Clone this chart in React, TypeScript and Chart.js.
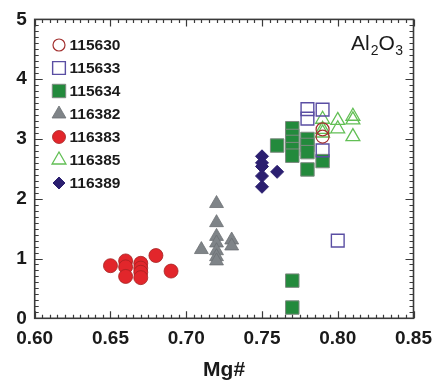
import React, { useEffect, useRef } from "react";
import { Chart, registerables } from "chart.js";

Chart.register(...registerables);

const xTickValues = [0.6, 0.65, 0.7, 0.75, 0.8, 0.85];
const yTickValues = [0, 1, 2, 3, 4, 5];

const names = ["115630", "115633", "115634", "116382", "116383", "116385", "116389"];

const x115630 = [0.79, 0.79];
const y115630 = [3.16, 3.04];

const x115633 = [0.78, 0.78, 0.79, 0.79, 0.8];
const y115633 = [3.5, 3.34, 3.49, 2.81, 1.3];

const x115634 = [0.76, 0.77, 0.77, 0.77, 0.77, 0.77, 0.78, 0.78, 0.78, 0.78, 0.79, 0.77, 0.77];
const y115634 = [2.89, 3.18, 3.05, 2.95, 2.83, 2.72, 3.0, 2.9, 2.78, 2.49, 2.63, 0.63, 0.18];

const x116382 = [0.71, 0.72, 0.72, 0.72, 0.72, 0.72, 0.72, 0.72, 0.73, 0.73];
const y116382 = [1.15, 1.92, 1.6, 1.37, 1.26, 1.13, 1.03, 0.96, 1.31, 1.21];

const x116383 = [0.65, 0.66, 0.66, 0.66, 0.67, 0.67, 0.67, 0.67, 0.68, 0.69];
const y116383 = [0.88, 0.96, 0.86, 0.7, 0.92, 0.84, 0.77, 0.68, 1.05, 0.79];

const x116385 = [0.79, 0.79, 0.79, 0.8, 0.8, 0.81, 0.81, 0.81];
const y116385 = [3.33, 3.16, 3.1, 3.31, 3.17, 3.38, 3.32, 3.04];

const x116389 = [0.75, 0.75, 0.75, 0.75, 0.75, 0.76];
const y116389 = [2.71, 2.6, 2.54, 2.38, 2.2, 2.45];

const toPoints = (xs: number[], ys: number[]) => xs.map((x, i) => ({ x, y: ys[i] }));

const FONT = "'Liberation Sans', Arial, Helvetica, sans-serif";

function drawMarker(ctx: CanvasRenderingContext2D, style: string, r: number, x: number, y: number) {
  ctx.beginPath();
  if (style === "circle") {
    ctx.arc(x, y, r, 0, Math.PI * 2);
  } else if (style === "rect") {
    const s = Math.SQRT1_2 * r;
    ctx.rect(x - s, y - s, 2 * s, 2 * s);
  } else if (style === "triangle") {
    let rad = 0;
    ctx.moveTo(x + Math.sin(rad) * r, y - Math.cos(rad) * r);
    rad += (Math.PI * 2) / 3;
    ctx.lineTo(x + Math.sin(rad) * r, y - Math.cos(rad) * r);
    rad += (Math.PI * 2) / 3;
    ctx.lineTo(x + Math.sin(rad) * r, y - Math.cos(rad) * r);
  } else if (style === "rectRot") {
    ctx.moveTo(x - r, y);
    ctx.lineTo(x, y - r);
    ctx.lineTo(x + r, y);
    ctx.lineTo(x, y + r);
  }
  ctx.closePath();
}

const framePlugin = {
  id: "frameTicks",
  afterDraw(chart: any) {
    const ctx: CanvasRenderingContext2D = chart.ctx;
    const { left, right, top, bottom } = chart.chartArea;
    const xs = chart.scales.x;
    const ys = chart.scales.y;
    ctx.save();
    ctx.strokeStyle = "#3a3a3a";
    ctx.lineWidth = 1.2;
    for (let i = 0; i <= 50; i++) {
      const v = 0.6 + i * 0.005;
      const px = Math.round(xs.getPixelForValue(v)) + 0.5;
      const len = i % 10 === 0 ? 7 : 3.5;
      ctx.beginPath();
      ctx.moveTo(px, bottom);
      ctx.lineTo(px, bottom - len);
      ctx.moveTo(px, top);
      ctx.lineTo(px, top + len);
      ctx.stroke();
    }
    for (let i = 0; i <= 50; i++) {
      const v = i * 0.1;
      const py = Math.round(ys.getPixelForValue(v)) + 0.5;
      const len = i % 10 === 0 ? 8 : 4;
      ctx.beginPath();
      ctx.moveTo(left, py);
      ctx.lineTo(left + len, py);
      ctx.moveTo(right, py);
      ctx.lineTo(right - len, py);
      ctx.stroke();
    }
    ctx.lineWidth = 1.6;
    ctx.strokeRect(left, top, right - left, bottom - top);

    // legend
    const rowY0 = 45;
    const rowStep = 23;
    chart.data.datasets.forEach((ds: any, i: number) => {
      const cy = rowY0 + i * rowStep;
      const cx = 59;
      drawMarker(ctx, ds.pointStyle, ds.legendRadius, cx, cy);
      if (ds.backgroundColor !== "transparent") {
        ctx.fillStyle = ds.backgroundColor;
        ctx.fill();
      }
      ctx.strokeStyle = ds.borderColor;
      ctx.lineWidth = ds.borderWidth;
      ctx.stroke();
      ctx.fillStyle = "#1a1a1a";
      ctx.font = `bold 15.5px ${FONT}`;
      ctx.textAlign = "left";
      ctx.textBaseline = "middle";
      ctx.fillText(ds.label, 69.5, cy + 1);
    });

    // Al2O3 label
    ctx.fillStyle = "#1a1a1a";
    ctx.textBaseline = "alphabetic";
    ctx.textAlign = "left";
    let tx = 351;
    const big = `21px ${FONT}`;
    const small = `14px ${FONT}`;
    ctx.font = big;
    ctx.fillText("Al", tx, 50);
    tx += ctx.measureText("Al").width + 1;
    ctx.font = small;
    ctx.fillText("2", tx, 55);
    tx += ctx.measureText("2").width;
    ctx.font = big;
    ctx.fillText("O", tx, 50);
    tx += ctx.measureText("O").width + 0.5;
    ctx.font = small;
    ctx.fillText("3", tx, 55);

    // x title
    ctx.font = `bold 21px ${FONT}`;
    ctx.textAlign = "center";
    ctx.textBaseline = "middle";
    ctx.fillText("Mg#", (left + right) / 2, 370);
    ctx.restore();
  },
};

export default function App() {
  const ref = useRef<HTMLCanvasElement | null>(null);
  useEffect(() => {
    if (!ref.current) return;
    const mk = (
      label: string,
      data: { x: number; y: number }[],
      pointStyle: string,
      radius: number,
      legendRadius: number,
      bg: string,
      border: string,
      bw: number
    ) => ({
      label,
      data,
      pointStyle,
      pointRadius: radius,
      pointHoverRadius: radius,
      legendRadius,
      backgroundColor: bg,
      borderColor: border,
      borderWidth: bw,
      pointBackgroundColor: bg,
      pointBorderColor: border,
      pointBorderWidth: bw,
      showLine: false,
    });
    const chart = new Chart(ref.current, {
      type: "scatter",
      data: {
        datasets: [
          mk(names[0], toPoints(x115630, y115630), "circle", 6.5, 6, "transparent", "#a3302f", 1.2),
          mk(names[1], toPoints(x115633, y115633), "rect", 9, 9, "transparent", "#5a4ea3", 1.4),
          mk(names[2], toPoints(x115634, y115634), "rect", 9.5, 9.5, "#238a3c", "#7d8a80", 1),
          mk(names[3], toPoints(x116382, y116382), "triangle", 8, 8, "#7f8488", "#6c7074", 0.8),
          mk(names[4], toPoints(x116383, y116383), "circle", 7, 6.5, "#e2262b", "#a52222", 0.8),
          mk(names[5], toPoints(x116385, y116385), "triangle", 8, 8, "transparent", "#62bf55", 1.3),
          mk(names[6], toPoints(x116389, y116389), "rectRot", 6.5, 6, "#2b1f70", "#2b1f70", 1),
        ] as any,
      },
      options: {
        animation: false,
        responsive: false,
        maintainAspectRatio: false,
        layout: { padding: { left: 0, right: 23.3, top: 19.3, bottom: 0 } },
        plugins: {
          legend: { display: false },
          tooltip: { enabled: false },
        },
        scales: {
          x: {
            type: "linear",
            min: 0.6,
            max: 0.85,
            afterFit: (s: any) => {
              s.height = 63.7;
            },
            afterBuildTicks: (s: any) => {
              s.ticks = xTickValues.map((v) => ({ value: v }));
            },
            grid: { display: false, drawTicks: false },
            border: { display: false },
            ticks: {
              padding: 9,
              color: "#1a1a1a",
              font: { family: FONT, size: 19, weight: "bold" },
              maxRotation: 0,
              autoSkip: false,
              callback: (v: any) => Number(v).toFixed(2),
            },
          },
          y: {
            type: "linear",
            min: 0,
            max: 5,
            afterFit: (s: any) => {
              s.width = 34.7;
            },
            afterBuildTicks: (s: any) => {
              s.ticks = yTickValues.map((v) => ({ value: v }));
            },
            grid: { display: false, drawTicks: false },
            border: { display: false },
            ticks: {
              padding: 8,
              color: "#1a1a1a",
              font: { family: FONT, size: 19, weight: "bold" },
              autoSkip: false,
              callback: (v: any) => String(v),
            },
          },
        },
      } as any,
      plugins: [framePlugin],
    });
    return () => chart.destroy();
  }, []);
  return (
    <div style={{ position: "fixed", left: 0, top: 0, width: 441, height: 382, background: "#fff" }}>
      <canvas ref={ref} width={441} height={382} style={{ width: 441, height: 382 }} />
    </div>
  );
}
